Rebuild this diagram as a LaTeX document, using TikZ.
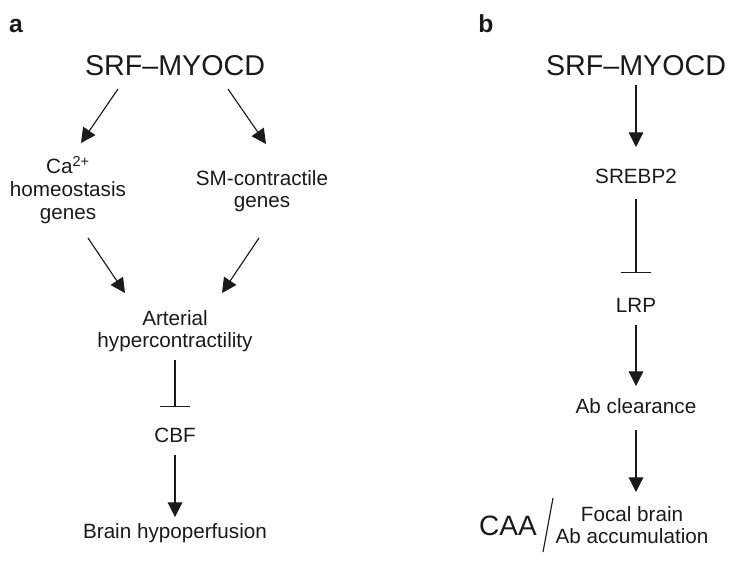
\documentclass[tikz,border=0pt]{standalone}
\usepackage{fontspec}
\setmainfont{Liberation Sans}
\usetikzlibrary{arrows.meta}
\definecolor{ink}{HTML}{1A1A1A}
\begin{document}
\begin{tikzpicture}[x=0.75pt,y=-0.75pt,
  big/.style={font=\fontsize{21.5}{24}\selectfont, inner sep=0pt, text=ink},
  caa/.style={font=\fontsize{21}{24}\selectfont, inner sep=0pt, text=ink},
  lbl/.style={font=\fontsize{15.5}{17}\selectfont, inner sep=0pt, text=ink, align=center},
  panel/.style={font=\fontsize{18.5}{20}\selectfont\bfseries, inner sep=0pt, text=ink},
  arr/.style={-{Triangle[width=11pt,length=11pt]}, line width=0.85pt, draw=ink},
  inh/.style={-{Bar[width=23pt]}, line width=0.85pt, draw=ink}]
\useasboundingbox (0,0) rectangle (750,583);
% panel a
\node[panel, anchor=base] (pa) at (16,32) {a};
\node[big, anchor=base] (srfA) at (175,75) {SRF–MYOCD};
\node[lbl] (ca) at (68,190) {Ca\textsuperscript{2+}\\homeostasis\\genes};
\node[lbl] (sm) at (262,191) {SM-contractile\\genes};
\node[lbl] (art) at (175,331) {Arterial\\hypercontractility};
\node[lbl, anchor=base] (cbf) at (175,442) {CBF};
\node[lbl, anchor=base] (brain) at (175,538) {Brain hypoperfusion};
\draw[arr] ([shift={(-57,14)}]srfA.base) -- ([shift={(13,-47)}]ca.center);
\draw[arr] ([shift={(53,14)}]srfA.base) -- ([shift={(4,-47)}]sm.center);
\draw[arr] ([shift={(20,48)}]ca.center) -- ([shift={(-50,-38)}]art.center);
\draw[arr] ([shift={(-3,47)}]sm.center) -- ([shift={(47,-38)}]art.center);
\draw[inh] ([shift={(0,29)}]art.center) -- ([shift={(0,-35)}]cbf.base);
\draw[arr] ([shift={(0,13)}]cbf.base) -- ([shift={(0,-21)}]brain.base);
% panel b
\node[panel, anchor=base] (pb) at (486,32) {b};
\node[big, anchor=base] (srfB) at (636,75) {SRF–MYOCD};
\node[lbl, anchor=base] (srebp) at (636,183) {SREBP2};
\node[lbl, anchor=base] (lrp) at (636,312) {LRP};
\node[lbl, anchor=base] (abc) at (636,413) {Ab clearance};
\node[lbl] (focal) at (632,525) {Focal brain\\Ab accumulation};
\node[caa, anchor=base] (caa) at (508,535) {CAA};
\draw[arr] ([shift={(0,10)}]srfB.base) -- ([shift={(0,-36)}]srebp.base);
\draw[inh] ([shift={(0,16)}]srebp.base) -- ([shift={(0,-39)}]lrp.base);
\draw[arr] ([shift={(0,13)}]lrp.base) -- ([shift={(0,-27)}]abc.base);
\draw[arr] ([shift={(0,17)}]abc.base) -- ([shift={(4,-33)}]focal.center);
\draw[line width=0.85pt, draw=ink] ([shift={(35,17)}]caa.base) -- ([shift={(45,-37)}]caa.base);
\end{tikzpicture}
\end{document}
